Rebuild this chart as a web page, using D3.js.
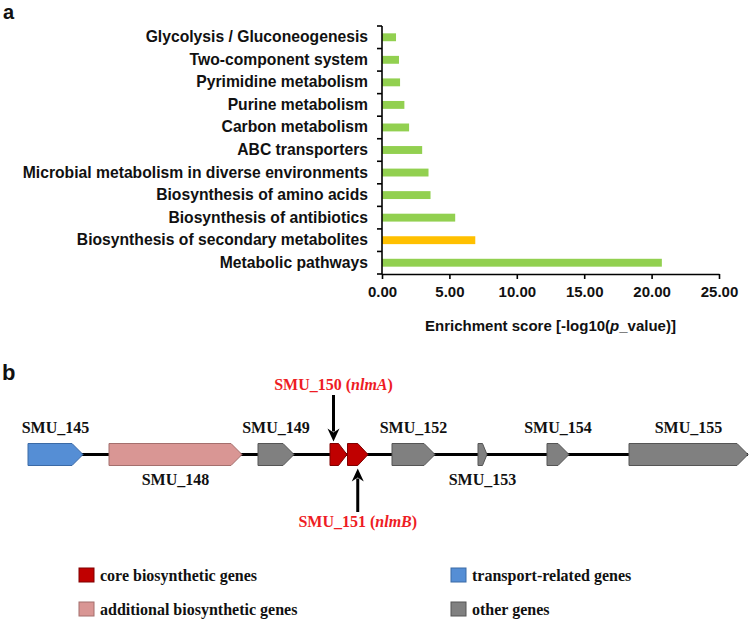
<!DOCTYPE html>
<html>
<head>
<meta charset="utf-8">
<script src="https://cdn.jsdelivr.net/npm/d3@7"></script>
<style>
body { margin: 0; background: #fff; }
svg text { font-family: "Liberation Sans", Arial, sans-serif; font-weight: bold; fill: #111; }
svg text.serif { font-family: "Liberation Serif", "Times New Roman", serif; }
</style>
</head>
<body>
<svg id="fig" width="750" height="624"></svg>
<script>
// ---- panel a data
const pathways = ["Glycolysis / Gluconeogenesis", "Two-component system", "Pyrimidine metabolism",
  "Purine metabolism", "Carbon metabolism", "ABC transporters",
  "Microbial metabolism in diverse environments", "Biosynthesis of amino acids",
  "Biosynthesis of antibiotics", "Biosynthesis of secondary metabolites", "Metabolic pathways"];
const scores = [1.04, 1.26, 1.34, 1.66, 2.01, 2.98, 3.45, 3.60, 5.43, 6.92, 20.76];
const highlighted = ["Biosynthesis of secondary metabolites"];
const xTicks = [0, 5, 10, 15, 20, 25];

// ---- panel b data (positions along the locus, arbitrary units)
const geneNames = ["SMU_145", "SMU_148", "SMU_149", "SMU_150", "SMU_151", "SMU_152", "SMU_153", "SMU_154", "SMU_155"];
const geneStart = [0, 81, 230, 302, 319.5, 364, 450, 519, 601];
const geneEnd = [55, 214, 266, 319, 340, 407, 459, 541, 720];
const geneType = ["transport", "additional", "other", "core", "core", "other", "other", "other", "other"];
const labelSide = ["top", "bottom", "top", "callTop", "callBottom", "top", "bottom", "top", "top"];
const geneAlias = ["", "", "", "nlmA", "nlmB", "", "", "", ""];
const legendTypes = ["core", "transport", "additional", "other"];
const legendNames = ["core biosynthetic genes", "transport-related genes", "additional biosynthetic genes", "other genes"];

const fillColor = { core: "#c00000", transport: "#558ed5", additional: "#d99694", other: "#808080" };
const strokeColor = { core: "#800000", transport: "#3b6aa6", additional: "#a46f6d", other: "#555555" };

let svg = d3.select("svg#fig");

svg.append("text").attr("x", 3).attr("y", 19).style("font-size", "20px").text("a");
svg.append("text").attr("x", 2).attr("y", 380).style("font-size", "22px").text("b");

// ---------------- bar chart
let x = d3.scaleLinear().domain([0, 25]).range([382, 719]);
let y = d3.scaleBand().domain(pathways).range([26, 274]).paddingInner(0.65).paddingOuter(0.325);

let bars = svg.append("g").attr("class", "bars").selectAll("rect")
  .data(pathways.map(function(p, i) { return {id: p, value: scores[i]}; }));
bars.enter().append("rect")
  .attr("x", x(0))
  .attr("y", function(d) { return y(d.id); })
  .attr("height", y.bandwidth())
  .attr("width", function(d) { return x(d.value) - x(0); })
  .attr("fill", function(d) { return highlighted.indexOf(d.id) >= 0 ? "#ffc000" : "#92d050"; });

let yAxis = svg.append("g")
  .attr("transform", "translate(" + x(0) + ",0)")
  .call(d3.axisLeft(y).tickSize(0).tickPadding(14));
yAxis.select(".domain").remove();
yAxis.selectAll("text").style("font-size", "15.7px");

let bounds = d3.range(pathways.length + 1).map(function(i) { return y.range()[0] + i * y.step(); });
let yLines = svg.append("g").attr("stroke", "#000").attr("stroke-width", 1.6);
yLines.append("line").attr("x1", x(0)).attr("x2", x(0)).attr("y1", bounds[0]).attr("y2", bounds[bounds.length - 1]);
yLines.selectAll("line.tk").data(bounds).enter().append("line").attr("class", "tk")
  .attr("x1", x(0) - 5).attr("x2", x(0))
  .attr("y1", function(d) { return d; }).attr("y2", function(d) { return d; });

let xAxis = svg.append("g")
  .attr("transform", "translate(0," + bounds[bounds.length - 1] + ")")
  .call(d3.axisBottom(x).tickValues(xTicks).tickFormat(d3.format(".2f")).tickSize(5).tickSizeOuter(0).tickPadding(7));
xAxis.select(".domain").attr("stroke", "#000").attr("stroke-width", 1.6);
xAxis.selectAll(".tick line").attr("stroke", "#000").attr("stroke-width", 1.6);
xAxis.selectAll("text").style("font-size", "15px");

let title = svg.append("text")
  .attr("x", (x.range()[0] + x.range()[1]) / 2).attr("y", 331)
  .attr("text-anchor", "middle").style("font-size", "15px");
title.append("tspan").text("Enrichment score [-log10(");
title.append("tspan").style("font-style", "italic").text("p");
title.append("tspan").text("_value)]");

// ---------------- gene cluster
let gx = d3.scaleLinear().domain([0, 720]).range([28, 748]);
let midY = 454.5, gh = 22;

let genes = geneNames.map(function(n, i) {
  return {name: n, start: geneStart[i], end: geneEnd[i], type: geneType[i], side: labelSide[i], alias: geneAlias[i]};
});

svg.append("line")
  .attr("x1", gx(geneStart[0])).attr("x2", gx(geneEnd[geneEnd.length - 1]))
  .attr("y1", midY).attr("y2", midY)
  .attr("stroke", "#000").attr("stroke-width", 3);

function genePath(d) {
  let x0 = gx(d.start), x1 = gx(d.end);
  let head = Math.min(11, (x1 - x0) * 0.5);
  let t = midY - gh / 2, b = midY + gh / 2;
  return "M" + x0 + "," + t + "L" + (x1 - head) + "," + t + "L" + x1 + "," + midY +
         "L" + (x1 - head) + "," + b + "L" + x0 + "," + b + "Z";
}

svg.append("g").selectAll("path").data(genes).enter().append("path")
  .attr("d", genePath)
  .attr("fill", function(d) { return fillColor[d.type]; })
  .attr("stroke", function(d) { return strokeColor[d.type]; })
  .attr("stroke-width", 1);

let labelY = { top: 433, bottom: 485, callTop: 390, callBottom: 527 };

let glabels = svg.append("g").selectAll("text").data(genes).enter().append("text")
  .attr("class", "serif")
  .attr("x", function(d) { return gx((d.start + d.end) / 2) + (d.side === "callTop" ? -5 : 0); })
  .attr("y", function(d) { return labelY[d.side]; })
  .attr("text-anchor", "middle")
  .style("font-size", "16px")
  .style("fill", function(d) { return d.alias ? "#ee1c24" : "#111"; });
glabels.each(function(d) {
  let t = d3.select(this);
  if (!d.alias) { t.text(d.name); return; }
  t.append("tspan").text(d.name + " (");
  t.append("tspan").style("font-style", "italic").text(d.alias);
  t.append("tspan").text(")");
});

// call-out arrows for the core genes
let arrows = svg.append("g");
genes.filter(function(d) { return d.alias; }).forEach(function(d) {
  let ax = gx((d.start + d.end) / 2) + (d.side === "callTop" ? -5 : 0);
  let from, to;
  if (d.side === "callTop") { from = 395; to = midY - gh / 2 - 2; }
  else { from = 512; to = midY + gh / 2 + 3; }
  let dir = to > from ? 1 : -1;
  arrows.append("line").attr("x1", ax).attr("x2", ax).attr("y1", from).attr("y2", to - dir * 10)
    .attr("stroke", "#000").attr("stroke-width", 3);
  arrows.append("path")
    .attr("d", "M" + (ax - 6) + "," + (to - dir * 13) + "L" + ax + "," + to + "L" + (ax + 6) + "," + (to - dir * 13) +
               "L" + ax + "," + (to - dir * 9) + "Z")
    .attr("fill", "#000");
});

// ---------------- legend
let legendX = [79, 451], legendY = [568, 602];
let leg = svg.append("g").selectAll("g").data(legendTypes).enter().append("g")
  .attr("transform", function(d, i) { return "translate(" + legendX[i % 2] + "," + legendY[Math.floor(i / 2)] + ")"; });
leg.append("rect").attr("width", 15).attr("height", 14)
  .attr("fill", function(d) { return fillColor[d]; })
  .attr("stroke", function(d) { return strokeColor[d]; });
leg.append("text").attr("class", "serif").attr("x", 21).attr("y", 13)
  .style("font-size", "16px")
  .text(function(d, i) { return legendNames[i]; });
</script>
</body>
</html>
